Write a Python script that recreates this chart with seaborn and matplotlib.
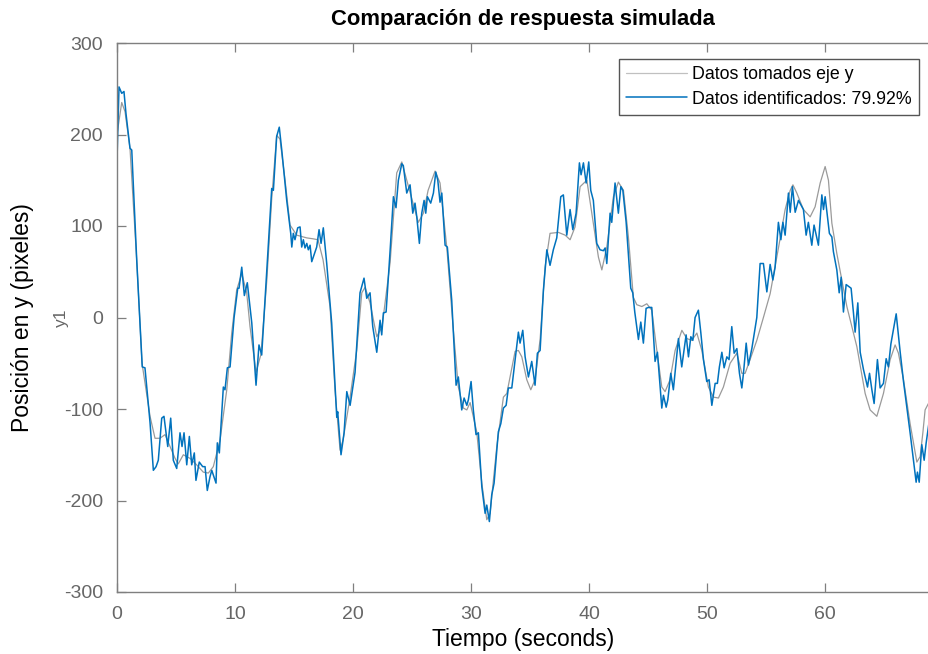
import numpy as np
import pandas as pd
import matplotlib
matplotlib.use("Agg")
import matplotlib.pyplot as plt
import seaborn as sns

# Measured data (gray)
t_meas = [0.0, 0.40, 0.68, 1.10, 1.67, 2.12, 2.80, 3.22, 3.64, 4.07, 4.49, 4.92, 5.19, 5.62, 6.19,
          6.75, 7.31, 7.74, 8.16, 8.73, 9.30, 9.72, 10.14, 10.57, 10.99, 11.27, 11.78, 12.20, 12.69,
          13.11, 13.53, 13.81, 14.24, 14.66, 15.23, 16.08, 16.61, 17.03, 17.46, 18.05, 18.47, 18.90,
          19.15, 19.75, 20.31, 20.74, 21.02, 21.44, 22.01, 22.46, 23.14, 23.70, 24.13, 24.55, 25.08,
          25.53, 25.96, 26.36, 26.95, 27.37, 27.94, 28.50, 28.92, 29.35, 29.64, 29.92, 30.48, 30.91,
          31.33, 31.61, 32.18, 32.74, 33.03, 33.73, 34.01, 34.30, 34.72, 35.06, 35.42, 35.85, 36.27,
          36.69, 37.40, 37.97, 38.39, 38.81, 39.24, 39.81, 40.23, 40.79, 41.08, 41.50, 42.06, 42.48,
          42.91, 43.33, 43.75, 44.04, 44.47, 44.89, 45.31, 45.74, 46.16, 46.44, 46.86, 47.29, 47.86,
          48.28, 48.70, 49.13, 49.55, 50.11, 50.53, 50.96, 51.38, 51.95, 52.52, 52.94, 53.22, 53.64,
          54.21, 54.77, 55.34, 56.10, 56.61, 57.04, 57.27, 57.60, 58.16, 58.73, 59.15, 59.58, 60.00,
          60.28, 60.57, 60.99, 61.84, 62.69, 63.39, 63.81, 64.38, 64.94, 65.51, 65.93, 66.21, 66.64,
          67.20, 67.77, 68.05, 68.28, 68.47, 68.75]
y_meas = [200, 235, 225, 185, 63, -50, -108, -132, -132, -128, -141, -154, -160, -150, -154,
          -161, -169, -170, -163, -134, -79, -17, 30, 48, 27, -10, -60, -40, 40,
          130, 199, 195, 150, 101, 90, 87, 86, 85, 63, 12, -79, -145,
          -134, -87, -36, 27, 33, 16, -21, -10, 60, 158, 170, 150, 125,
          104, 114, 139, 160, 147, 77, -14, -76, -99, -101, -93, -125, -181,
          -221, -214, -141, -87, -83, -37, -36, -43, -68, -79, -68, -24, 55,
          92, 93, 90, 85, 99, 143, 150, 114, 66, 52, 77, 132, 148,
          139, 88, 22, 14, 12, 15, 8, -36, -76, -81, -68, -36, -14,
          -23, -25, -17, -36, -76, -87, -88, -76, -50, -39, -61, -61, -46,
          -25, 0, 26, 80, 118, 139, 145, 136, 118, 110, 121, 147, 165,
          150, 103, 70, 12, -32, -83, -101, -108, -83, -46, -30, -39, -68,
          -116, -158, -152, -126, -101, -94]

# Identified model output (blue)
t_ident = [0.0, 0.17, 0.40, 0.59, 0.76, 1.10, 1.25, 1.67, 2.14, 2.37, 2.80, 3.08, 3.31, 3.50, 3.79,
           3.98, 4.30, 4.55, 4.77, 5.06, 5.34, 5.51, 5.68, 5.91, 6.13, 6.33, 6.55, 6.69, 6.97, 7.26,
           7.46, 7.65, 7.88, 8.03, 8.39, 8.50, 8.67, 9.01, 9.15, 9.35, 9.58, 9.92, 10.23, 10.34,
           10.57, 10.79, 11.04, 11.42, 11.78, 12.03, 12.26, 12.69, 13.11, 13.25, 13.53, 13.75, 13.96,
           14.38, 14.72, 14.81, 14.94, 15.08, 15.31, 15.51, 15.65, 15.79, 15.93, 16.08, 16.21, 16.36,
           16.50, 16.92, 17.12, 17.29, 17.48, 17.77, 18.19, 18.62, 18.70, 18.98, 19.24, 19.47, 19.75,
           20.17, 20.59, 20.93, 21.16, 21.44, 21.67, 22.01, 22.29, 22.43, 22.57, 22.80, 23.14, 23.42,
           23.64, 23.84, 24.13, 24.26, 24.55, 24.83, 25.06, 25.25, 25.40, 25.62, 25.82, 26.02, 26.16,
           26.30, 26.58, 26.81, 27.01, 27.18, 27.37, 27.52, 27.80, 27.99, 28.36, 28.73, 28.92, 29.21,
           29.41, 29.64, 29.77, 30.00, 30.19, 30.42, 30.62, 30.91, 31.19, 31.33, 31.55, 31.75, 31.95,
           32.31, 32.52, 32.74, 32.97, 33.16, 33.45, 33.73, 34.01, 34.15, 34.38, 34.58, 34.86, 35.14,
           35.42, 35.62, 35.85, 36.13, 36.42, 36.69, 36.97, 37.26, 37.60, 37.82, 38.11, 38.39, 38.62,
           38.90, 39.18, 39.32, 39.52, 39.75, 39.97, 40.14, 40.36, 40.65, 40.93, 41.21, 41.36, 41.50,
           41.78, 41.92, 42.20, 42.48, 42.69, 42.86, 43.14, 43.53, 43.70, 43.87, 44.18, 44.38, 44.60,
           44.83, 45.03, 45.31, 45.59, 45.79, 46.16, 46.30, 46.53, 46.67, 46.92, 47.14, 47.57, 47.85,
           48.22, 48.42, 48.62, 48.79, 48.98, 49.26, 49.47, 49.69, 49.97, 50.17, 50.40, 50.68, 50.87,
           51.04, 51.25, 51.44, 51.67, 51.86, 52.09, 52.29, 52.52, 52.74, 52.94, 53.08, 53.31, 53.50,
           53.79, 54.21, 54.49, 54.77, 55.06, 55.34, 55.57, 55.76, 56.04, 56.25, 56.42, 56.61, 56.89,
           57.04, 57.23, 57.46, 57.74, 58.16, 58.39, 58.58, 58.87, 59.06, 59.43, 59.72, 59.86, 60.00,
           60.36, 60.57, 60.70, 60.99, 61.19, 61.36, 61.55, 61.78, 62.20, 62.40, 62.54, 62.77, 62.97,
           63.25, 63.59, 63.76, 63.96, 64.15, 64.43, 64.66, 64.94, 65.17, 65.36, 65.57, 66.02, 66.36,
           66.64, 66.92, 67.20, 67.48, 67.71, 67.82, 67.97, 68.19, 68.39, 68.56, 68.81]
y_ident = [172, 252, 245, 247, 223, 185, 183, 63, -54, -55, -115, -167, -163, -156, -110,
           -108, -141, -110, -156, -165, -126, -141, -126, -161, -130, -161, -148, -178, -158, -163,
           -163, -189, -174, -167, -181, -137, -148, -76, -79, -55, -54, 0, 32, 32,
           55, 24, 38, -6, -74, -30, -41, 52, 141, 139, 198, 208, 183,
           128, 92, 77, 92, 85, 98, 99, 77, 85, 76, 81, 74, 79,
           61, 77, 96, 81, 98, 59, -6, -109, -103, -150, -126, -81, -96,
           -60, 27, 43, 21, 27, -10, -38, -3, -19, 5, 6, 73, 132,
           120, 150, 168, 166, 136, 145, 114, 125, 110, 81, 114, 128, 114,
           132, 125, 136, 159, 150, 126, 136, 79, 77, 19, -74, -65, -101,
           -88, -96, -90, -70, -101, -128, -126, -185, -214, -205, -223, -194, -181,
           -125, -116, -99, -96, -77, -77, -46, -16, -28, -14, -43, -65, -48,
           -74, -39, -36, 30, 74, 57, 74, 87, 132, 134, 90, 118, 96,
           114, 169, 156, 169, 147, 170, 139, 128, 81, 74, 73, 76, 59,
           114, 104, 147, 114, 143, 139, 104, 32, 27, 6, -24, -5, -28,
           10, 11, 11, -48, -38, -99, -85, -98, -90, -61, -79, -23, -54,
           -19, -43, -21, -25, 0, 8, -17, -46, -70, -68, -96, -72, -72,
           -54, -38, -55, -43, -46, -10, -39, -34, -61, -77, -61, -28, -52,
           -34, 0, 59, 59, 28, 58, 41, 55, 104, 85, 104, 90, 136,
           115, 143, 115, 128, 118, 90, 104, 79, 101, 79, 134, 118, 132,
           92, 88, 72, 52, 27, 44, 6, 36, 32, 5, -16, 16, -38,
           -57, -76, -61, -79, -94, -46, -77, -72, -45, -54, -29, 4, -38,
           -70, -98, -126, -156, -180, -169, -180, -139, -156, -137, -114]

x_ticks = [0, 10, 20, 30, 40, 50, 60]
y_ticks = [-300, -200, -100, 0, 100, 200, 300]

title = "Comparación de respuesta simulada"
xlabel = "Tiempo (seconds)"
ylabel = "Posición en y (pixeles)"
legend_labels = ["Datos tomados eje y", "Datos identificados: 79.92%"]

sns.set_style("white")
plt.rcParams["font.family"] = ["Liberation Sans", "DejaVu Sans"]
plt.rcParams["axes.unicode_minus"] = False
plt.rcParams["text.color"] = "black"

fig = plt.figure(figsize=(9.29, 6.54), dpi=100)
ax = fig.add_axes([117/929, 1 - 592/654, 812/929, (592 - 43)/654])

df_meas = pd.DataFrame({"t": t_meas, "y": y_meas})
df_ident = pd.DataFrame({"t": t_ident, "y": y_ident})

sns.lineplot(data=df_meas, x="t", y="y", ax=ax, color="#9a9a9a", linewidth=0.9,
             label=legend_labels[0], sort=False)
sns.lineplot(data=df_ident, x="t", y="y", ax=ax, color="#0072BD", linewidth=1.1,
             label=legend_labels[1], sort=False)

ax.set_xlim(0, 68.8)
ax.set_ylim(-300, 300)
ax.set_xticks(x_ticks)
ax.set_yticks(y_ticks)

axis_gray = "#7f7f7f"
for s in ax.spines.values():
    s.set_color(axis_gray)
    s.set_linewidth(1.0)
ax.spines["right"].set_visible(False)
ax.tick_params(direction="in", length=6.5, width=0.9, color=axis_gray,
               labelcolor="#666666", labelsize=14, top=True, right=False,
               bottom=True, left=True)
ax.tick_params(axis="y", pad=10)
ax.tick_params(axis="x", pad=10)

ax.set_xlabel(xlabel, fontsize=16.5, color="black", labelpad=4)
ax.set_ylabel("")
fig.text(23/929, 1 - 318/654, ylabel, rotation=90, fontsize=16.5, color="black",
         ha="center", va="center")
fig.text(61/929, 1 - 318/654, "y1", rotation=90, fontsize=12.5, color="#666666",
         ha="center", va="center")
ax.set_title(title, fontsize=15.8, fontweight="bold", pad=13, color="black")

leg = ax.legend(loc="upper right", fontsize=12.8, frameon=True, fancybox=False,
                edgecolor="#555555", framealpha=1, borderpad=0.4, handlelength=3.4,
                handletextpad=0.3, labelspacing=0.42, borderaxespad=0,
                bbox_to_anchor=(919/929, 1 - 59/654), bbox_transform=fig.transFigure)
leg.get_frame().set_linewidth(1.0)
leg.get_lines()[0].set_color("#c0c0c0")
for txt in leg.get_texts():
    txt.set_color("black")

fig.savefig("out.png", dpi=100)
